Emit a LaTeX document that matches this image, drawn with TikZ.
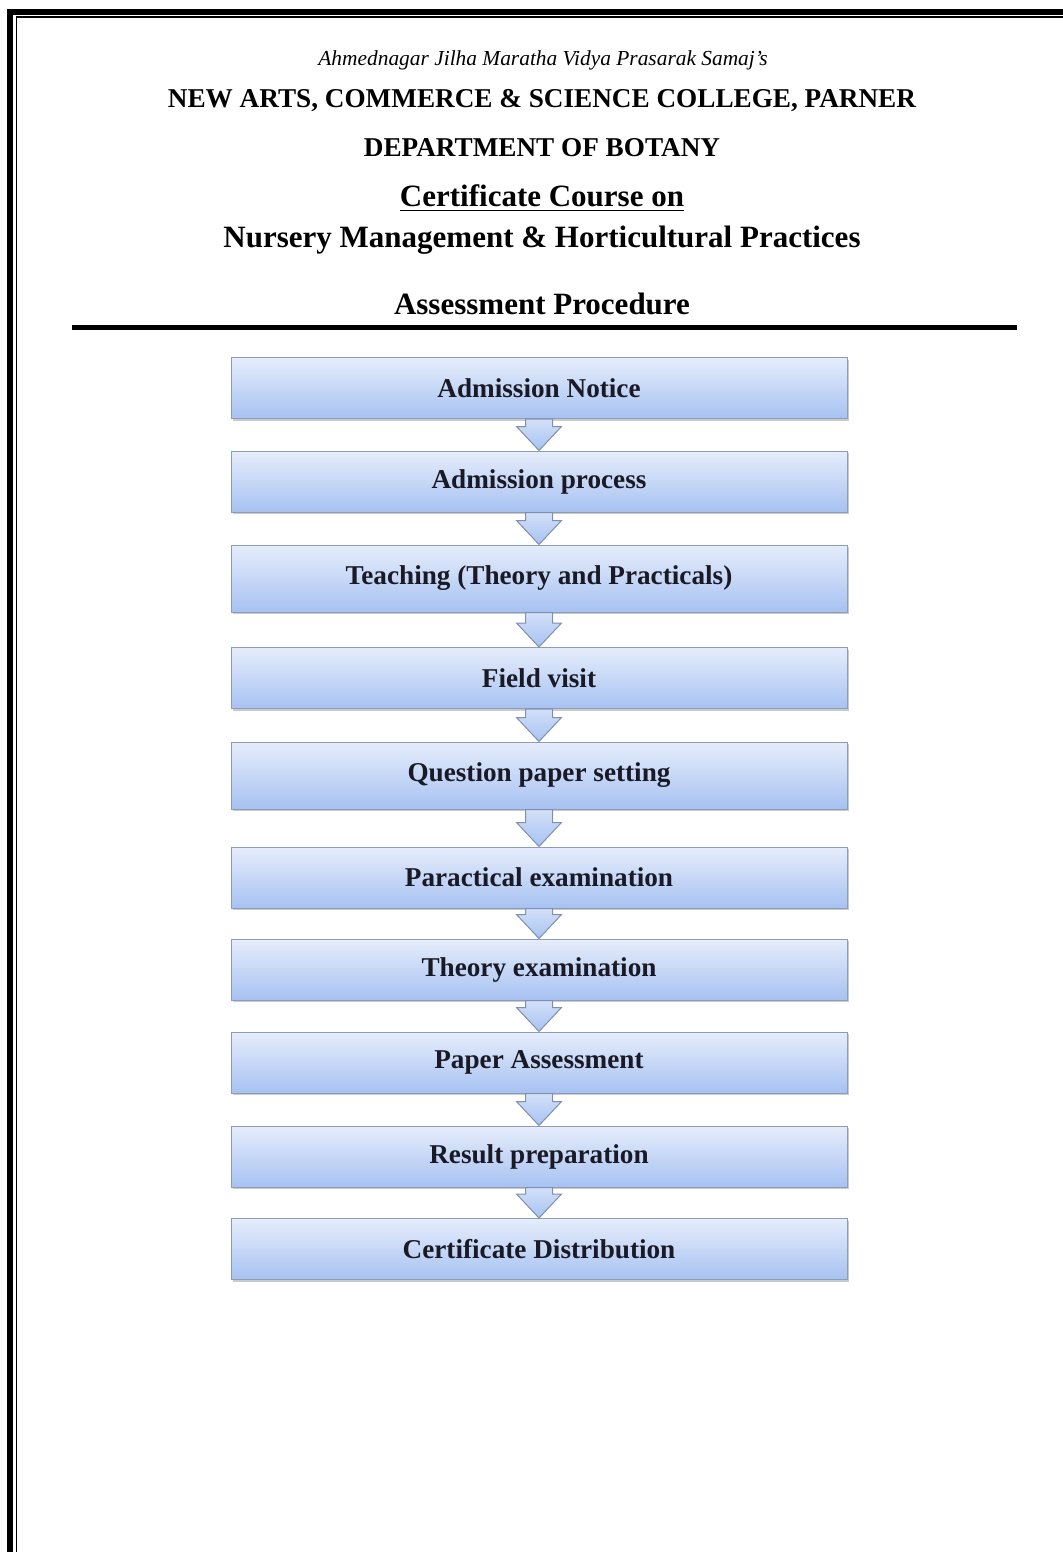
\documentclass[tikz,border=0pt]{standalone}
\usepackage{fontspec}
\setmainfont{Liberation Serif}
\usetikzlibrary{calc,shadows}
\definecolor{BoxTop}{HTML}{E6EDFB}
\definecolor{BoxBottom}{HTML}{A7C2F2}
\definecolor{BoxLine}{HTML}{8C9DB8}
\definecolor{ArrowLine}{HTML}{7F90AE}
\definecolor{Ink}{HTML}{1A1A26}
\tikzset{stage/.style={draw=BoxLine,line width=.5pt,top color=BoxTop,bottom color=BoxBottom,minimum width=308pt,minimum height=30.5pt,inner sep=0pt,text=Ink,font=\fontsize{13.6}{16}\selectfont\bfseries,drop shadow={shadow xshift=.8pt,shadow yshift=-1.2pt,opacity=.35,fill=black!60}},downarrow/.style={draw=ArrowLine,line width=.5pt,top color=BoxTop!70!BoxBottom,bottom color=BoxBottom},heading/.style={inner sep=0pt,font=\fontsize{13.6}{16}\selectfont\bfseries},title/.style={inner sep=0pt,font=\fontsize{15.5}{18}\selectfont\bfseries}}

\begin{document}
\begin{tikzpicture}[x=0.5pt,y=-0.5pt]
      \useasboundingbox (0,0) rectangle (1062,1552);
      % page frame
      \draw[line width=3pt] (10.3,11.7) rectangle (1110,1610);
      \draw[line width=.7pt] (16.5,17) rectangle (1104,1604);
      % headings
      \node[inner sep=0pt,font=\fontsize{10.7}{13}\selectfont\itshape] (samaj) at (543,60) {Ahmednagar Jilha Maratha Vidya Prasarak Samaj's};
      \node[heading] (college) at (542,101) {NEW ARTS, COMMERCE \& SCIENCE COLLEGE, PARNER};
      \node[heading] (dept) at (542,148) {DEPARTMENT OF BOTANY};
      \node[title] (course) at (542,198) {\underline{Certificate Course on}};
      \node[title] (subject) at (542,240) {Nursery Management \& Horticultural Practices};
      \node[title] (proc) at (542,304) {Assessment Procedure};
      \draw[line width=2.5pt] (72,327) -- (1017,327);
      % stages
      \node[stage] (s1) at (539,388) {Admission Notice};
      \node[stage] (s2) at (539,481.5) {Admission process};
      \node[stage,minimum height=33.5pt] (s3) at (539,578.5) {Teaching (Theory and Practicals)};
      \node[stage] (s4) at (539,678) {Field visit};
      \node[stage,minimum height=33.5pt] (s5) at (539,775.5) {Question paper setting};
      \node[stage] (s6) at (539,877.5) {Paractical examination};
      \node[stage] (s7) at (539,969.5) {Theory examination};
      \node[stage] (s8) at (539,1062.5) {Paper Assessment};
      \node[stage] (s9) at (539,1156.5) {Result preparation};
      \node[stage] (s10) at (539,1249) {Certificate Distribution};
      % block arrows between stages
      \foreach \a/\b in {s1/s2,s2/s3,s3/s4,s4/s5,s5/s6,s6/s7,s7/s8,s8/s9,s9/s10}
        \draw[downarrow] ($(\a.south)+(-13.5,0)$) -- ($(\b.north)+(-13.5,-24)$) -- ($(\b.north)+(-22.5,-24)$) -- (\b.north) -- ($(\b.north)+(22.5,-24)$) -- ($(\b.north)+(13.5,-24)$) -- ($(\a.south)+(13.5,0)$) -- cycle;
    \end{tikzpicture}
\end{document}
